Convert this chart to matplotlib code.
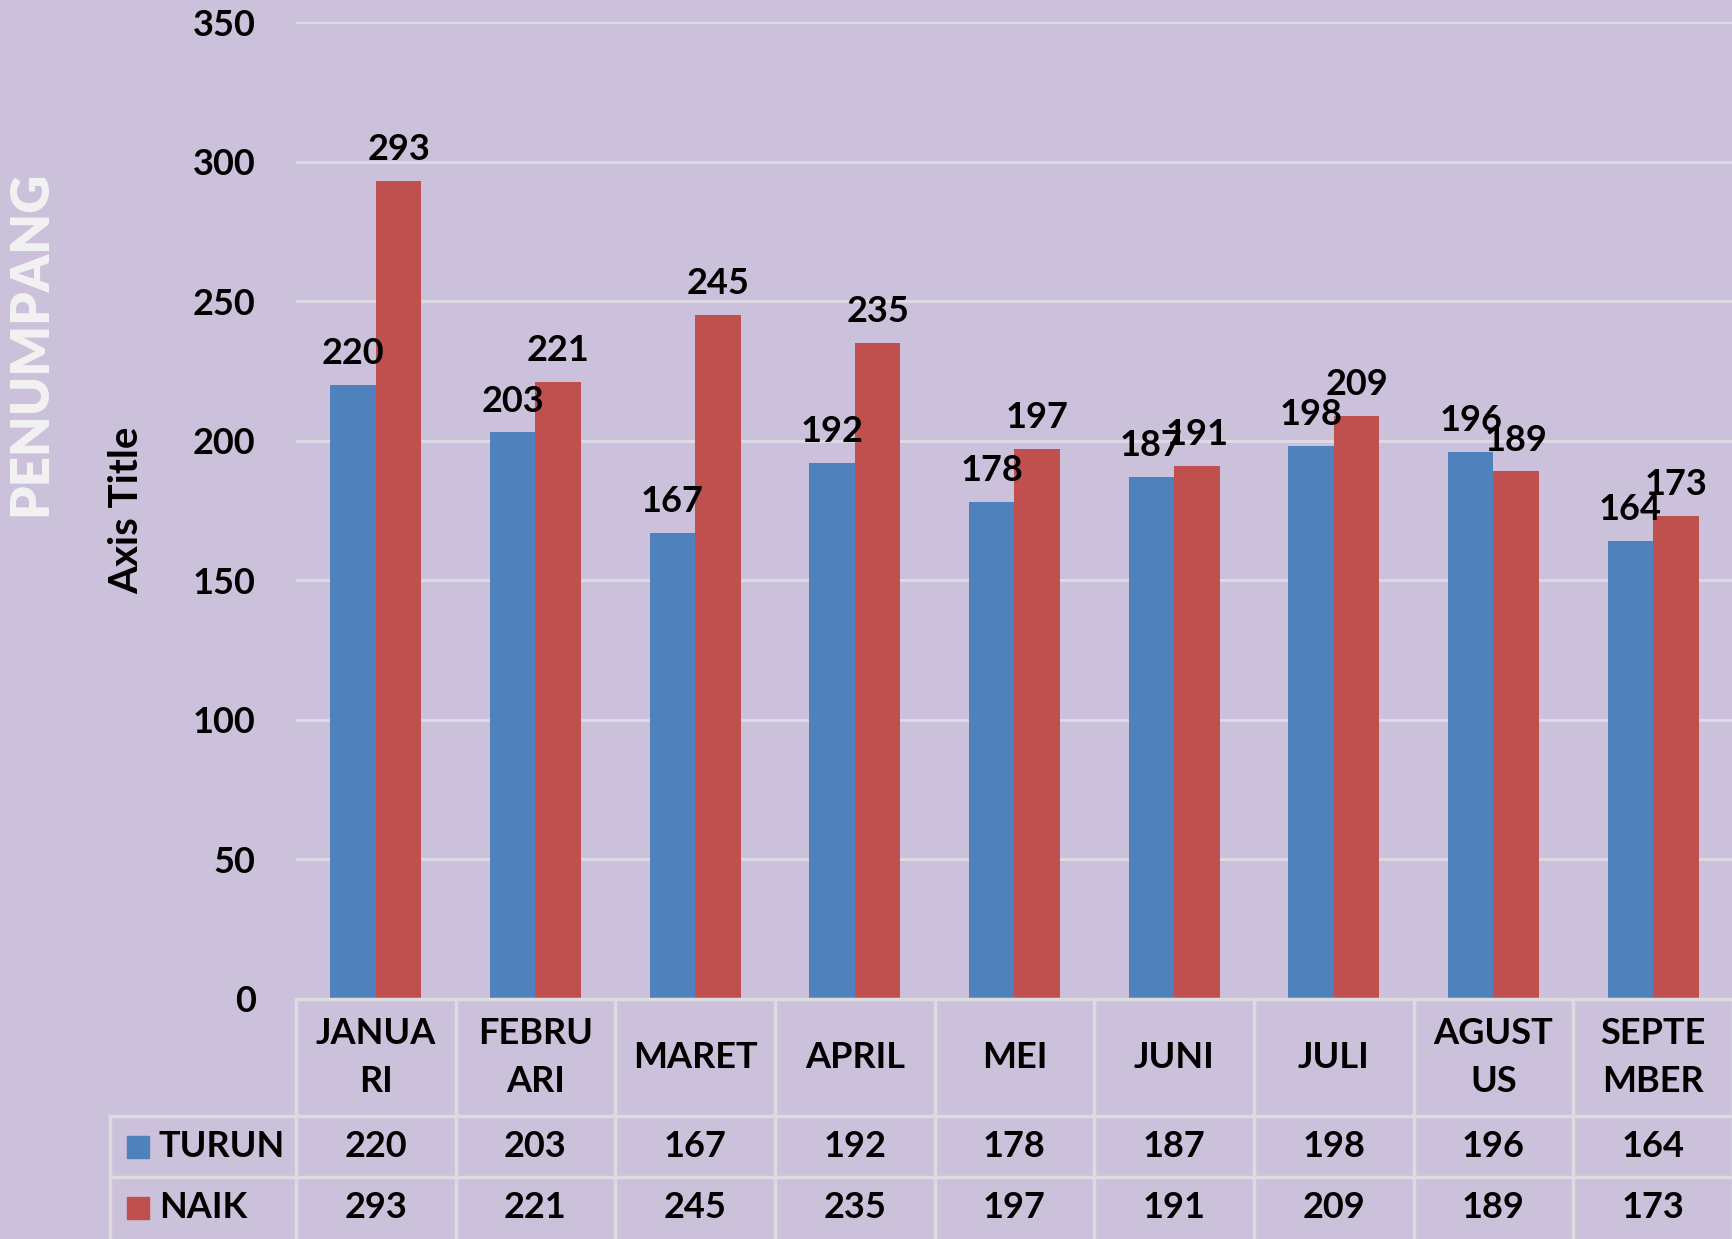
import matplotlib.pyplot as plt
import numpy as np

months = ['JANUA\nRI', 'FEBRU\nARI', 'MARET', 'APRIL', 'MEI', 'JUNI', 'JULI', 'AGUST\nUS', 'SEPTE\nMBER']
turun = [220, 203, 167, 192, 178, 187, 198, 196, 164]
naik = [293, 221, 245, 235, 197, 191, 209, 189, 173]
yticks = [0, 50, 100, 150, 200, 250, 300, 350]

bg = '#ccc1da'
blue = '#4f81bd'
red = '#c0504d'
grid_c = '#dedbe6'
line_c = '#dcdce0'
fam = 'Lato'
fs = 26

W, H = 1733, 1239
fig = plt.figure(figsize=(W / 100, H / 100), dpi=100, facecolor=bg)
left, right, top, bottom = 296, 1733, 22, 999
ax = fig.add_axes([left / W, 1 - bottom / H, (right - left) / W, (bottom - top) / H])
ax.set_facecolor(bg)

x = np.arange(len(months))
bw = 0.285
b1 = ax.bar(x - bw / 2, turun, bw, color=blue, zorder=3)
b2 = ax.bar(x + bw / 2, naik, bw, color=red, zorder=3)

for bars, vals in ((b1, turun), (b2, naik)):
    for b, v in zip(bars, vals):
        ax.annotate(str(v), (b.get_x() + b.get_width() / 2, v), xytext=(0, 15),
                    textcoords='offset points', ha='center', va='baseline',
                    fontsize=fs, fontweight='bold', family=fam, zorder=5)

ax.set_xlim(-0.5, len(months) - 0.5)
ax.set_ylim(0, 350)
ax.set_yticks(yticks)
ax.set_yticklabels([str(t) for t in yticks], fontsize=fs, fontweight='bold', family=fam)
ax.tick_params(axis='y', length=0, pad=29)
ax.set_xticks([])
ax.yaxis.grid(True, color=grid_c, linewidth=2, zorder=0)
for s in ax.spines.values():
    s.set_visible(False)

# data table under the axis
ah = bottom - top
r0 = 0.0
r1 = -(1116 - bottom) / ah
r2 = -(1177 - bottom) / ah
r3 = -(H - bottom) / ah
cw = (right - left) / len(months)
x_leg = -0.5 - (left - 110) / cw

tr = ax.get_xaxis_transform()
kw = dict(color=line_c, linewidth=2.5, transform=tr, clip_on=False, zorder=4)
ax.plot([-0.5, len(months) - 0.5], [r0, r0], **kw)
ax.plot([x_leg, len(months) - 0.5], [r1, r1], **kw)
ax.plot([x_leg, len(months) - 0.5], [r2, r2], **kw)
ax.plot([x_leg, x_leg], [r1, r3], **kw)
for i in range(len(months) + 1):
    ax.plot([i - 0.5, i - 0.5], [r0, r3], **kw)

tkw = dict(transform=tr, ha='center', va='center', fontsize=fs, fontweight='bold',
           family=fam, clip_on=False)
for i, m in enumerate(months):
    ax.text(i, (r0 + r1) / 2, m, linespacing=1.55, **tkw)
    ax.text(i, (r1 + r2) / 2, str(turun[i]), **tkw)
    ax.text(i, (r2 + r3) / 2, str(naik[i]), **tkw)

sq = 22 / cw
for (name, col, ya, yb) in (('TURUN', blue, r1, r2), ('NAIK', red, r2, r3)):
    yc = (ya + yb) / 2
    ax.add_patch(plt.Rectangle((x_leg + 17 / cw, yc - 11 / ah), sq, 22 / ah,
                               color=col, transform=tr, clip_on=False, zorder=5))
    ax.text(x_leg + 49 / cw, yc, name, transform=tr, ha='left', va='center',
            fontsize=fs, fontweight='bold', family=fam, clip_on=False)

fig.text(127 / W, 1 - 510 / H, 'Axis Title', rotation=90, ha='center', va='center',
         fontsize=29, fontweight='bold', family=fam)
fig.text(31 / W, 1 - 343 / H, 'PENUMPANG', rotation=90, ha='center', va='center',
         fontsize=38, fontweight='heavy', family=fam, color='#f2f2f2')

fig.savefig('out.png', dpi=100, facecolor=bg)
